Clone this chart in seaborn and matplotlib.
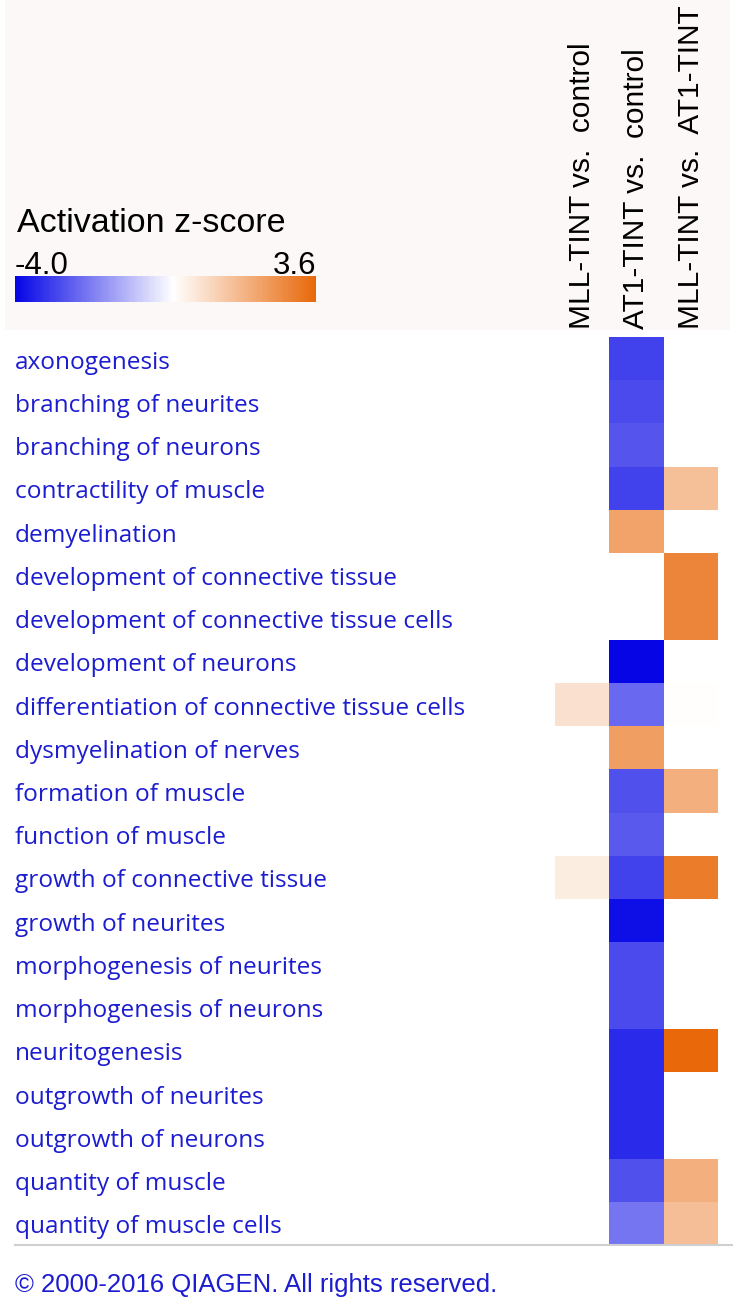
import numpy as np
import pandas as pd
import matplotlib.pyplot as plt
import seaborn as sns
from matplotlib.colors import LinearSegmentedColormap
from matplotlib.patches import Rectangle
from matplotlib.lines import Line2D
from matplotlib.transforms import ScaledTranslation

functions = [
    'axonogenesis', 'branching of neurites', 'branching of neurons',
    'contractility of muscle', 'demyelination',
    'development of connective tissue', 'development of connective tissue cells',
    'development of neurons', 'differentiation of connective tissue cells',
    'dysmyelination of nerves', 'formation of muscle', 'function of muscle',
    'growth of connective tissue', 'growth of neurites',
    'morphogenesis of neurites', 'morphogenesis of neurons', 'neuritogenesis',
    'outgrowth of neurites', 'outgrowth of neurons', 'quantity of muscle',
    'quantity of muscle cells',
]
comparisons = ['MLL-TINT vs.  control', 'AT1-TINT vs.  control', 'MLL-TINT vs.  AT1-TINT']

nan = np.nan
mll_vs_control = [nan, nan, nan, nan, nan, nan, nan, nan, 0.7, nan, nan,
                  nan, 0.45, nan, nan, nan, nan, nan, nan, nan, nan]
at1_vs_control = [-3.0, -2.9, -2.7, -3.0, 2.2, nan, nan, -4.0, -2.4, 2.3, -2.8,
                  -2.65, -3.0, -3.85, -2.9, -2.9, -3.4, -3.4, -3.4, -2.8, -2.2]
mll_vs_at1 = [nan, nan, nan, 1.5, nan, 2.9, 2.9, nan, 0.02, nan, 1.9,
              nan, 3.1, nan, nan, nan, 3.6, nan, nan, 1.9, 1.55]

zmin, zmax = -4.0, 3.6

df = pd.DataFrame({comparisons[0]: mll_vs_control,
                   comparisons[1]: at1_vs_control,
                   comparisons[2]: mll_vs_at1}, index=functions)

# blue -> white (at z = 0) -> orange
mid = (0 - zmin) / (zmax - zmin)
cmap = LinearSegmentedColormap.from_list(
    'ipa', [(0, '#0505e6'), (mid, '#ffffff'), (1, '#e8680a')])

W, H = 733, 1304
fig = plt.figure(figsize=(W / 100, H / 100), dpi=100)
fig.patch.set_facecolor('white')

def box(x0, y0, x1, y1):
    return [x0 / W, 1 - y1 / H, (x1 - x0) / W, (y1 - y0) / H]

# header background
fig.add_artist(Rectangle((5 / W, 1 - 330 / H), 725 / W, 330 / H,
                         transform=fig.transFigure, facecolor='#fcf8f7',
                         edgecolor='none', zorder=0))

ax = fig.add_axes(box(555, 337, 718, 1245))
cax = fig.add_axes(box(15, 276, 302 + 14, 302))

sns.heatmap(df, ax=ax, cmap=cmap, vmin=zmin, vmax=zmax, cbar=True, cbar_ax=cax,
            cbar_kws={'orientation': 'horizontal'}, linewidths=0)
ax.set_facecolor('white')

# row labels, left aligned at the page margin
ax.set_yticks(np.arange(len(functions)) + 0.5)
ax.set_yticklabels(functions, rotation=0, ha='left', color='#1c1cd0',
                   fontsize=17.6, family='Open Sans')
ax.tick_params(axis='y', length=0, pad=540 * 0.72)
shift = ScaledTranslation(0, -4 / 100, fig.dpi_scale_trans)
for lab in ax.get_yticklabels():
    lab.set_transform(lab.get_transform() + shift)

# column labels on top, rotated
ax.xaxis.tick_top()
ax.set_xticks(np.arange(len(comparisons)) + 0.5)
ax.set_xticklabels(comparisons, rotation=90, ha='center', va='bottom',
                   fontsize=21.5, family='Liberation Sans', color='black')
ax.tick_params(axis='x', length=0, pad=6)
ax.set_xlabel('')
ax.set_ylabel('')

# colorbar styling
cbar = ax.collections[0].colorbar
cbar.set_ticks([])
cbar.outline.set_visible(False)
cax.text(0, 1.08, f'{zmin:.1f}', transform=cax.transAxes, ha='left',
         va='baseline', fontsize=22.5, family='Liberation Sans')
cax.text(1, 1.08, f'{zmax:.1f}', transform=cax.transAxes, ha='right',
         va='baseline', fontsize=22.5, family='Liberation Sans')
fig.text(17 / W, 1 - 224 / H, 'Activation z-score', ha='left', va='center',
         fontsize=24.5, family='Liberation Sans')

# rule under the table and footer
fig.add_artist(Line2D([15 / W, 1], [1 - 1245 / H] * 2, transform=fig.transFigure,
                      color='#cfcfcf', lw=1.5))
fig.text(15 / W, 1 - 1285 / H, '\u00a9 2000-2016 QIAGEN. All rights reserved.',
         ha='left', va='center', fontsize=18.5, family='Liberation Sans',
         color='#1c1cd0')

fig.savefig('out.png', dpi=100)
